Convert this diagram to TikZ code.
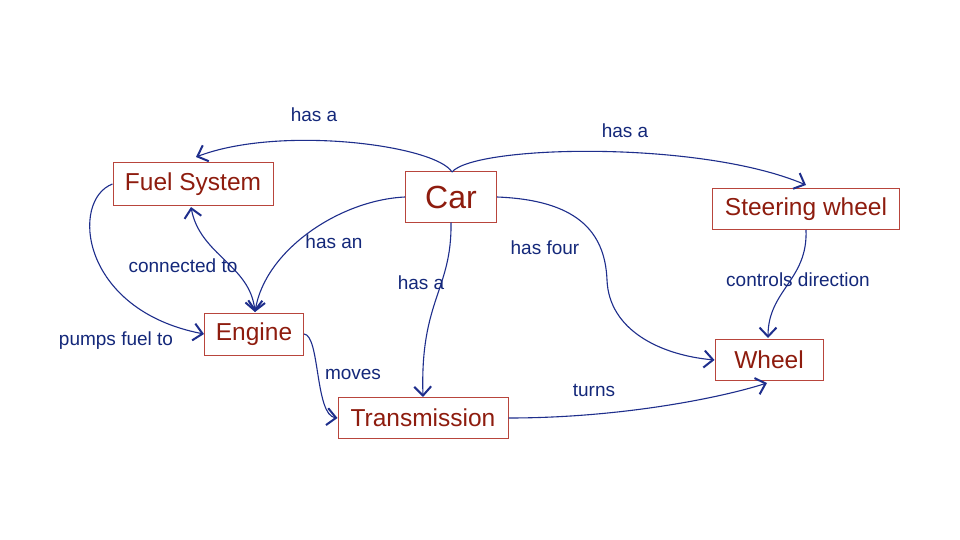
\documentclass[tikz,border=0pt]{standalone}
\usepackage{fontspec}
\setmainfont{Liberation Sans}
\usetikzlibrary{arrows.meta}
\definecolor{boxline}{HTML}{B8453C}
\definecolor{boxtext}{HTML}{8E1C0E}
\definecolor{edgecol}{HTML}{1E2E8C}
\definecolor{labcol}{HTML}{14287A}
\tikzset{
  tipstyle/.style={},
  rel/.style={draw=edgecol, line width=1.1pt,
    -{Straight Barb[length=9pt,width=17pt,line width=2pt]}},
  concept/.style={draw=boxline, line width=1pt, text=boxtext, fill=white,
    inner sep=0pt, minimum height=42pt, font=\fontsize{24.5}{24.5}\selectfont},
  biarrow/.style={draw=edgecol, line width=1.1pt,
    {Straight Barb[length=9pt,width=17pt,line width=2pt]}-{Straight Barb[length=9pt,width=17pt,line width=2pt]}},
  lab/.style={text=labcol, inner sep=1pt, font=\fontsize{19}{19}\selectfont}
}
\begin{document}
\begin{tikzpicture}[x=1pt,y=-1pt]
\useasboundingbox (0,0) rectangle (960,540);
\fill[white] (0,0) rectangle (960,540);
% concepts
\node[concept, minimum width=160pt] (fuel) at (193,184) {Fuel System};
\node[concept, minimum width=91pt, minimum height=50pt, font=\fontsize{32}{32}\selectfont] (car) at (451,197) {Car};
\node[concept, minimum width=187pt, minimum height=41pt] (steer) at (806,209) {Steering wheel};
\node[concept, minimum width=99pt] (engine) at (254,334) {Engine};
\node[concept, minimum width=108pt, minimum height=41pt] (wheel) at (769,360) {Wheel};
\node[concept, minimum width=170pt, minimum height=41pt] (trans) at (423,418) {Transmission};
% anchor points
\coordinate (carT) at (452,172);
\coordinate (fuelTip) at (196,157);
\coordinate (steerTip) at (806,185);
\coordinate (engTip) at (255,312);
\coordinate (fuelBot) at (191,207);
\coordinate (wheelTop) at (768,338);
\coordinate (wheelBot) at (767,383);
\coordinate (fourMid) at (607,280);
% connectors
\draw[rel] (carT) .. controls (435,145) and (280,125) .. (fuelTip);
\draw[rel] (carT) .. controls (475,145) and (700,140) .. (steerTip);
\draw[rel] (car.west) .. controls (340,200) and (265,250) .. (engTip);
\draw[biarrow] (fuelBot) .. controls (200,255) and (250,265) .. (engTip);
\draw[rel] (fuel.west) .. controls (70,200) and (80,310) .. (engine.west);
\draw[rel] (car.south) .. controls (452,290) and (420,300) .. (trans.north);
\draw[rel] (car.east) .. controls (575,200) and (605,230) .. (fourMid)
   .. controls (609,330) and (660,355) .. (wheel.west);
\draw[rel] (steer.south) .. controls (808,280) and (768,290) .. (wheelTop);
\draw[rel] (engine.east) .. controls (320,335) and (315,415) .. (trans.west);
\draw[rel] (trans.east) .. controls (620,418) and (720,398) .. (wheelBot);
% labels
\node[lab] (l1) at (314,115) {has a};
\node[lab] (l2) at (625,131) {has a};
\node[lab] (l3) at (334,242) {has an};
\node[lab] (l4) at (183,266) {connected to};
\node[lab] (l5) at (116,341) {pumps fuel to};
\node[lab] (l6) at (421,283) {has a};
\node[lab] (l7) at (545,248) {has four};
\node[lab] (l8) at (798,280) {controls direction};
\node[lab] (l9) at (353,374) {moves};
\node[lab] (l10) at (594,390) {turns};
\end{tikzpicture}
\end{document}
